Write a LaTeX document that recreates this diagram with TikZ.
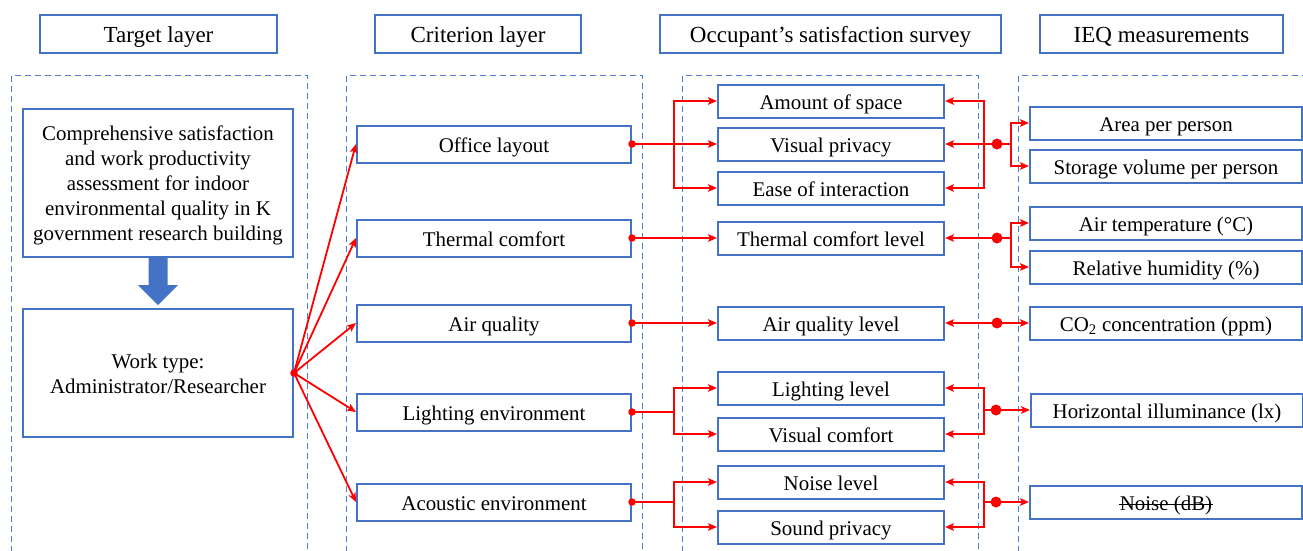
\documentclass[tikz,border=0pt]{standalone}
\usepackage{fontspec}
\setmainfont{Liberation Serif}
\usetikzlibrary{arrows.meta,calc}
\definecolor{bl}{HTML}{4472C4}
\definecolor{dl}{HTML}{4F7ED0}
\begin{document}
\begin{tikzpicture}[x=1pt,y=-1pt,
 txt/.style={font=\fontsize{20.9}{24.8}\selectfont,align=center},
 box/.style={txt,draw=bl,line width=2pt,inner sep=0pt},
 one/.style={text height=21pt,text depth=4.3pt},
 hbox/.style={box,font=\fontsize{23}{27}\selectfont,text height=22pt,text depth=4.6pt,minimum height=38pt},
 cbox/.style={box,one,minimum width=274pt,minimum height=37pt},
 sbox/.style={box,one,minimum width=226pt,minimum height=33pt},
 ibox/.style={box,one,minimum width=272pt,minimum height=33pt},
 frame/.style={draw=dl,line width=1pt,dash pattern=on 6pt off 4pt},
 arr/.style={draw=red,line width=1.8pt,-{Stealth[length=9pt,width=7.5pt,inset=2pt]}},
 ln/.style={draw=red,line width=1.8pt},
 sdot/.style={circle,fill=red,inner sep=0pt,minimum size=7.5pt},
 bdot/.style={circle,fill=red,inner sep=0pt,minimum size=11pt}]
\useasboundingbox (0,0) rectangle (1303,550);

% headers
\node[hbox,minimum width=237pt] (h1) at (158.5,34) {Target layer};
\node[hbox,minimum width=206pt] (h2) at (478,34) {Criterion layer};
\node[hbox,minimum width=341pt] (h3) at (830.5,34) {Occupant’s satisfaction survey};
\node[hbox,minimum width=243pt] (h4) at (1161.5,34) {IEQ measurements};

% dashed frames
\draw[frame] (11.5,552) -- (11.5,75.5) -- (307.5,75.5) -- (307.5,552);
\draw[frame] (346.5,552) -- (346.5,75.5) -- (642.5,75.5) -- (642.5,552);
\draw[frame] (682.5,552) -- (682.5,75.5) -- (978.5,75.5) -- (978.5,552);
\draw[frame] (1018.5,552) -- (1018.5,75.5) -- (1306,75.5);

% left column
\node[box,minimum width=270pt,minimum height=148pt,text height=118.6pt,text depth=4.6pt] (comp) at (158,183)
 {Comprehensive satisfaction\\and work productivity\\assessment for indoor\\environmental quality in K\\government research building};
\node[box,minimum width=270pt,minimum height=128pt,text height=45.2pt,text depth=4.6pt] (work) at (158,373)
 {Work type:\\Administrator/Researcher};
\fill[bl] ($(comp.south)+(-9.5,0)$) -- ($(comp.south)+(9.5,0)$) -- ($(comp.south)+(9.5,27)$)
 -- ($(comp.south)+(20,27)$) -- ($(work.north)+(0,-3)$) -- ($(comp.south)+(-20,27)$)
 -- ($(comp.south)+(-9.5,27)$) -- cycle;

% criterion layer
\node[cbox] (office) at (494,144) {Office layout};
\node[cbox] (thermal) at (494,238) {Thermal comfort};
\node[cbox] (air) at (494,323) {Air quality};
\node[cbox] (light) at (494,412) {Lighting environment};
\node[cbox] (acou) at (494,502) {Acoustic environment};

% survey
\node[sbox] (amount) at (831,101) {Amount of space};
\node[sbox] (visual) at (831,144) {Visual privacy};
\node[sbox] (ease) at (831,188) {Ease of interaction};
\node[sbox] (tcl) at (831,238) {Thermal comfort level};
\node[sbox] (aql) at (831,323) {Air quality level};
\node[sbox] (ll) at (831,388) {Lighting level};
\node[sbox] (vc) at (831,434) {Visual comfort};
\node[sbox] (nl) at (831,482) {Noise level};
\node[sbox] (sp) at (831,527) {Sound privacy};

% IEQ
\node[ibox] (area) at (1166,123) {Area per person};
\node[ibox] (stor) at (1166,166) {Storage volume per person};
\node[ibox] (airt) at (1166,223) {Air temperature (°C)};
\node[ibox] (rh) at (1166,267) {Relative humidity (\%)};
\node[ibox] (co2) at (1166,323) {CO\textsubscript{2} concentration (ppm)};
\node[ibox] (hi) at (1167,410) {Horizontal illuminance (lx)};
\node[ibox] (noise) at (1166,502) {};
\node[txt,one,inner sep=0pt] (nt) at (noise.center) {Noise (dB)};
\draw[line width=1.1pt] ([xshift=-1pt,yshift=-2.5pt]nt.west) -- ([xshift=1pt,yshift=-2.5pt]nt.east);

% work type -> criteria
\node[sdot] (wd) at (work.east) {};
\foreach \t in {office,thermal,air,light,acou}
  \draw[arr] (wd.center) -- (\t.west);

% criteria -> survey
\node[sdot] (od) at (office.east) {};
\node[sdot] (td) at (thermal.east) {};
\node[sdot] (ad) at (air.east) {};
\node[sdot] (ld) at (light.east) {};
\node[sdot] (cd) at (acou.east) {};
\coordinate (b1) at (674,144);
\coordinate (b4) at (674,412);
\coordinate (b5) at (674,502);
\draw[arr] (od.center) -- (visual.west);
\draw[arr] (b1) |- (amount.west);
\draw[arr] (b1) |- (ease.west);
\draw[arr] (td.center) -- (tcl.west);
\draw[arr] (ad.center) -- (aql.west);
\draw[ln] (ld.center) -- (b4);
\draw[arr] (b4) |- (ll.west);
\draw[arr] (b4) |- (vc.west);
\draw[ln] (cd.center) -- (b5);
\draw[arr] (b5) |- (nl.west);
\draw[arr] (b5) |- (sp.west);

% IEQ -> survey
\node[bdot] (r1) at (997,144) {};
\node[bdot] (r2) at (997,238) {};
\node[bdot] (r3) at (997,323) {};
\node[bdot] (r4) at (996,410) {};
\node[bdot] (r5) at (996,502) {};
\coordinate (q1) at (984,144);
\coordinate (q4) at (984,410);
\coordinate (q5) at (984,502);
\coordinate (p1) at (1011,144);
\coordinate (p2) at (1011,238);
\draw[arr] (r1.center) -- (visual.east);
\draw[arr] (q1) |- (amount.east);
\draw[arr] (q1) |- (ease.east);
\draw[ln] (r1.center) -- (p1);
\draw[arr] (p1) |- (area.west);
\draw[arr] (p1) |- (stor.west);
\draw[arr] (r2.center) -- (tcl.east);
\draw[ln] (r2.center) -- (p2);
\draw[arr] (p2) |- (airt.west);
\draw[arr] (p2) |- (rh.west);
\draw[arr] (r3.center) -- (aql.east);
\draw[arr] (r3.center) -- (co2.west);
\draw[ln] (q4) -- (r4.center);
\draw[arr] (q4) |- (ll.east);
\draw[arr] (q4) |- (vc.east);
\draw[arr] (r4.center) -- (hi.west);
\draw[ln] (q5) -- (r5.center);
\draw[arr] (q5) |- (nl.east);
\draw[arr] (q5) |- (sp.east);
\draw[arr] (r5.center) -- (noise.west);
\end{tikzpicture}
\end{document}
